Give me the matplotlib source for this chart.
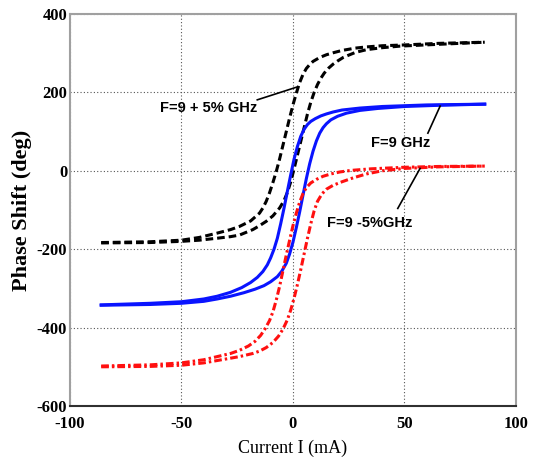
import matplotlib.pyplot as plt

# phase shift vs current, three frequencies, each one a loop (two branches)
# "left" = branch that switches first (more negative current), "right" = the other one

# F = 9 + 5% GHz  (black dashed)
black_left_x = [-86, -64, -50, -42, -34, -28, -24, -19, -15, -13.5, -12, -10.5, -9, -7.5, -6, -4.5, -3, -1.5, 0, 1.5, 3, 4.5, 6, 7.5, 9, 12, 15, 18, 22, 28, 33, 40, 50, 65, 86]
black_left_y = [-183, -181, -177, -170, -159, -150, -142, -128, -108, -95, -78, -56, -30, -2, 30, 65, 100, 135, 168, 198, 225, 246, 261, 271, 279, 289, 296, 301, 307, 313, 316, 319, 321, 325, 328]
black_right_x = [-86, -64, -50, -42, -34, -28, -24, -18, -15, -12, -9, -6, -4, -2.5, -1, 0.5, 2, 3.5, 5, 6.5, 8, 9.5, 11, 12.5, 14, 16, 18, 20, 22.5, 25, 28, 33, 40, 48, 63, 86]
black_right_y = [-184, -183, -180, -177, -172, -168, -164, -150, -140, -129, -115, -95, -76, -55, -28, 5, 40, 75, 110, 145, 175, 200, 220, 236, 249, 262, 272, 280, 289, 295, 302, 309, 314, 318, 322, 328]

# F = 9 GHz  (blue solid)
blue_left_x = [-86, -64, -50, -40, -34, -28, -23, -19, -16, -13.5, -11.5, -10, -8.5, -7, -5.5, -4, -2.5, -1, 0.5, 2, 3.5, 5, 6.5, 8, 10, 12.5, 15, 18, 22, 30, 40, 60, 86]
blue_left_y = [-342, -338, -334, -327, -320, -310, -298, -285, -272, -257, -240, -222, -200, -172, -135, -95, -52, -10, 30, 62, 88, 106, 118, 126, 133, 140, 145, 150, 155, 160, 164, 168, 170]
blue_right_x = [-86, -64, -50, -40, -34, -28, -22, -17, -13, -10, -7, -5, -3, -1.5, 0, 1.5, 3, 4.5, 6, 7.5, 9, 10.5, 12, 13.5, 15, 17, 20, 24, 30, 38, 50, 65, 86]
blue_right_y = [-343, -341, -338, -333, -327, -320, -311, -302, -293, -283, -270, -256, -236, -212, -182, -145, -105, -62, -20, 18, 50, 76, 96, 110, 120, 130, 139, 147, 154, 159, 164, 167, 170]

# F = 9 - 5% GHz  (red dash-dot)
red_left_x = [-86, -64, -50, -40, -34, -28, -24, -20, -17, -14.5, -12.5, -10.5, -9, -7.5, -6, -4.5, -3, -1.5, 0, 1.5, 3, 4.5, 6, 8, 10.5, 13.5, 17, 21, 26, 35, 50, 65, 86]
red_left_y = [-498, -495, -490, -482, -474, -466, -458, -447, -435, -420, -403, -382, -360, -330, -295, -255, -215, -177, -140, -108, -80, -58, -43, -31, -22, -14, -8, -3, 1, 5, 9, 11, 12]
red_right_x = [-86, -64, -50, -40, -34, -24, -18, -15, -12, -9, -6.5, -4.5, -2.5, -1, 0.5, 2, 3.5, 5, 6.5, 8, 9.5, 11, 13, 15, 18, 22, 27, 33, 40, 50, 65, 86]
red_right_y = [-500, -499, -496, -490, -484, -474, -466, -460, -451, -438, -422, -404, -380, -355, -325, -290, -252, -212, -172, -135, -102, -78, -59, -47, -37, -28, -18, -8, 0, 6, 10, 12]

x_ticks = [-100, -50, 0, 50, 100]
y_ticks = [-600, -400, -200, 0, 200, 400]

# labels: text, text position, line start, line end (data coords)
labels = [
    ("F=9 + 5% GHz", (-38, 160), (-16, 181), (2, 214)),
    ("F=9 GHz", (48.5, 71), (60.5, 96), (66, 165)),
    ("F=9 -5%GHz", (34.5, -132), (47, -96), (57, 6)),
]

fig = plt.figure(figsize=(5.35, 4.63), dpi=100)
ax = fig.add_axes([0.1308, 0.1231, 0.8336, 0.8467])

lw = 2.2
blue = "#0a14ff"
red = "#ff1010"
ax.plot(black_left_x, black_left_y, color="black", lw=lw, dashes=(2.5, 1.3))
ax.plot(black_right_x, black_right_y, color="black", lw=lw, dashes=(2.5, 1.3))
ax.plot(blue_left_x, blue_left_y, color=blue, lw=lw)
ax.plot(blue_right_x, blue_right_y, color=blue, lw=lw)
ax.plot(red_left_x, red_left_y, color=red, lw=lw, dashes=(2.5, 1.0, 0.8, 1.0))
ax.plot(red_right_x, red_right_y, color=red, lw=lw, dashes=(2.5, 1.0, 0.8, 1.0))

for txt, pos, p0, p1 in labels:
    ax.plot([p0[0], p1[0]], [p0[1], p1[1]], color="black", lw=1.2)
    ax.text(pos[0], pos[1], txt, ha="center", va="center", fontsize=10.5, fontweight="bold",
            family=["Liberation Sans Narrow", "Liberation Sans", "DejaVu Sans"])

ax.set_xlim(-100, 100)
ax.set_ylim(-600, 400)
ax.set_xticks(x_ticks)
ax.set_yticks(y_ticks)
ax.set_xticklabels([str(t) for t in x_ticks], family="Liberation Serif", fontweight="bold", fontsize=12)
ax.set_yticklabels([str(t) for t in y_ticks], family="Liberation Serif", fontweight="bold", fontsize=12)
ax.tick_params(length=0)
ax.tick_params(axis="x", pad=7)
ax.tick_params(axis="y", pad=2)

ax.grid(True, color="#555555", linestyle=(0, (1, 2)), linewidth=0.8)

for s in ["top", "right", "left"]:
    ax.spines[s].set_color("#a0a0a0")
    ax.spines[s].set_linewidth(1.5)
ax.spines["bottom"].set_color("#303030")
ax.spines["bottom"].set_linewidth(1.5)

ax.set_xlabel("Current I (mA)", family="Liberation Serif", fontsize=13)
ax.xaxis.set_label_coords(0.5, -0.085)
ax.set_ylabel("Phase Shift (deg)", family="Liberation Serif", fontweight="bold", fontsize=16)
ax.yaxis.set_label_coords(-0.085, 0.5)

fig.savefig("out.png", dpi=100)
